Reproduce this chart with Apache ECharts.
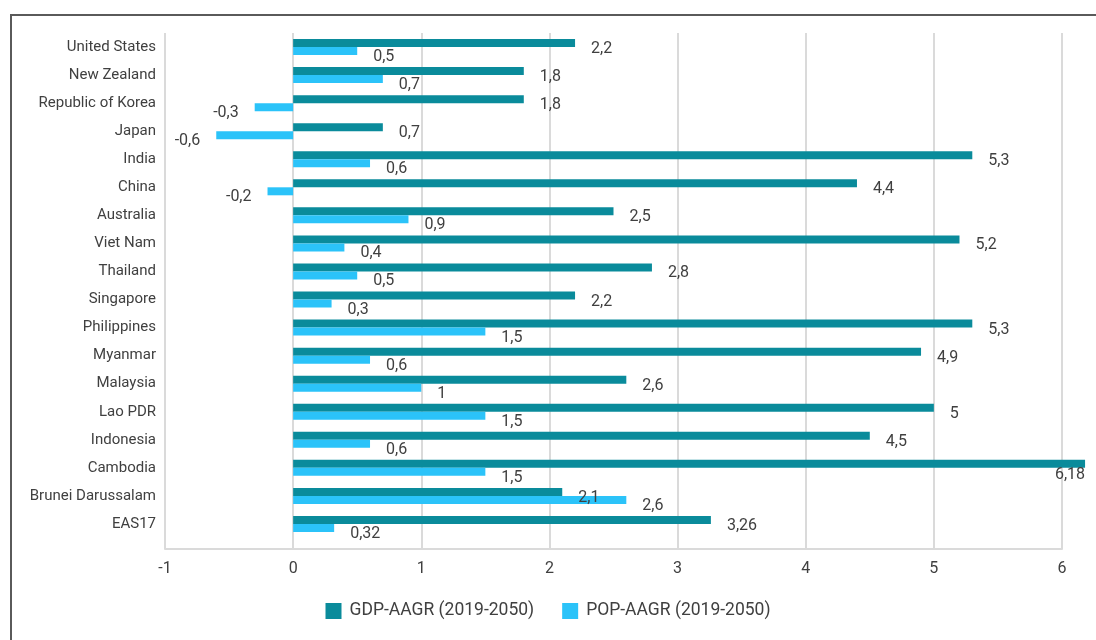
<!DOCTYPE html>
<html>
<head>
<meta charset="utf-8">
<script src="https://cdn.jsdelivr.net/npm/echarts@6/dist/echarts.min.js"></script>
<style>
  html, body { margin: 0; padding: 0; background: #ffffff; }
  #chart { width: 1096px; height: 640px; }
</style>
</head>
<body>
<div id="chart"></div>
<script>
// Economies, top to bottom
const categories = [
  'United States', 'New Zealand', 'Republic of Korea', 'Japan', 'India', 'China',
  'Australia', 'Viet Nam', 'Thailand', 'Singapore', 'Philippines', 'Myanmar',
  'Malaysia', 'Lao PDR', 'Indonesia', 'Cambodia', 'Brunei Darussalam', 'EAS17'
];
// Average annual growth rates, 2019-2050 (%)
const gdpAagr = [2.2, 1.8, 1.8, 0.7, 5.3, 4.4, 2.5, 5.2, 2.8, 2.2, 5.3, 4.9, 2.6, 5, 4.5, 6.18, 2.1, 3.26];
const popAagr = [0.5, 0.7, -0.3, -0.6, 0.6, -0.2, 0.9, 0.4, 0.5, 0.3, 1.5, 0.6, 1, 1.5, 0.6, 1.5, 2.6, 0.32];
const seriesNames = ['GDP-AAGR (2019-2050)', 'POP-AAGR (2019-2050)'];
const valueTicks = [-1, 0, 1, 2, 3, 4, 5, 6];

const FONT = 'Roboto, "Noto Sans", sans-serif';
const TEXT = '#404040';
const GRID_LINE = '#dadada';
const GDP_COLOR = '#0a8b9b';
const POP_COLOR = '#2bc3f9';

const fmt = v => String(v).replace('.', ',');
const axisMax = valueTicks[valueTicks.length - 1];

function barData(values) {
  return values.map(v => {
    const item = { value: v, label: { position: v < 0 ? 'left' : 'right' } };
    if (v > axisMax) {
      // value runs past the last tick: put its label under the bar end
      item.label = { position: 'insideBottomRight', distance: 0, offset: [0, 15] };
    }
    return item;
  });
}

const labelStyle = {
  show: true,
  distance: 16,
  offset: [0, 6],
  color: TEXT,
  fontFamily: FONT,
  fontSize: 16,
  formatter: p => fmt(p.value)
};

const chart = echarts.init(document.getElementById('chart'), null, { renderer: 'canvas' });
chart.setOption({
  backgroundColor: '#ffffff',
  animation: false,
  textStyle: { fontFamily: FONT },
  graphic: [{
    type: 'rect',
    shape: { x: 11, y: 15, width: 1200, height: 800 },
    style: { fill: 'none', stroke: '#5a5a5a', lineWidth: 2 },
    silent: true
  }],
  grid: [
    { left: 165, right: 34, top: 33, height: 516 },
    { left: 165, right: 34, top: 33, height: 505 }
  ],
  legend: {
    data: seriesNames,
    bottom: 15,
    left: 'center',
    itemWidth: 16,
    itemHeight: 16,
    itemGap: 28,
    icon: 'rect',
    textStyle: { color: TEXT, fontSize: 17.5, fontFamily: FONT, padding: [0, 0, 0, 3] }
  },
  xAxis: [
    {
      type: 'value', gridIndex: 0,
      min: valueTicks[0], max: axisMax, interval: 1,
      axisLine: { show: true, lineStyle: { color: GRID_LINE, width: 2 } },
      axisTick: { show: false },
      splitLine: { show: true, lineStyle: { color: GRID_LINE, width: 2 } },
      axisLabel: { color: TEXT, fontSize: 16, fontFamily: FONT, margin: 12 }
    },
    {
      type: 'value', gridIndex: 1,
      min: valueTicks[0], max: axisMax, interval: 1,
      show: false
    }
  ],
  yAxis: [
    { type: 'value', gridIndex: 0, min: 0, max: 1, show: false },
    {
      type: 'category', gridIndex: 1, data: categories, inverse: true,
      axisLine: { show: false },
      axisTick: { show: false },
      splitLine: { show: false },
      axisLabel: { color: TEXT, fontSize: 15, fontFamily: FONT, margin: 9 }
    }
  ],
  series: [
    {
      name: seriesNames[0], type: 'bar', xAxisIndex: 1, yAxisIndex: 1,
      data: barData(gdpAagr), barWidth: 8, barGap: '0%', clip: false,
      itemStyle: { color: GDP_COLOR },
      label: labelStyle
    },
    {
      name: seriesNames[1], type: 'bar', xAxisIndex: 1, yAxisIndex: 1,
      data: barData(popAagr), barWidth: 8, barGap: '0%', clip: false,
      itemStyle: { color: POP_COLOR },
      label: labelStyle
    }
  ]
});
</script>
</body>
</html>
